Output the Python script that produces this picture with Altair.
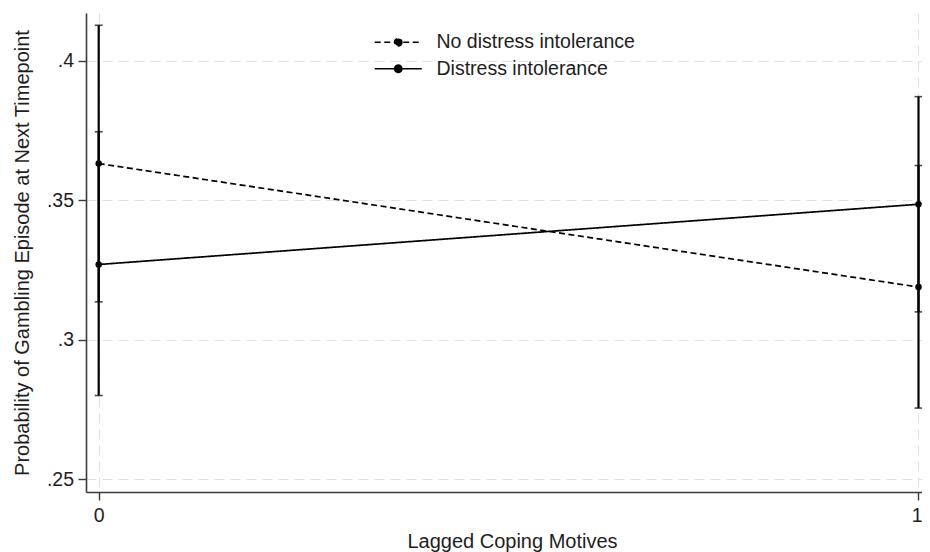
import altair as alt
import pandas as pd

# ---- data ----
groups = ["No distress intolerance", "Distress intolerance"]
coping = [0, 1]
prob_no = [0.3632, 0.3189]
lo_no = [0.3136, 0.2755]
hi_no = [0.4128, 0.3625]
prob_di = [0.3270, 0.3486]
lo_di = [0.2800, 0.3100]
hi_di = [0.3746, 0.3872]
y_ticks = [0.25, 0.30, 0.35, 0.40]
x_ticks = [0, 1]

rows = []
for g, p, lo, hi in [(groups[0], prob_no, lo_no, hi_no),
                     (groups[1], prob_di, lo_di, hi_di)]:
    for i, xv in enumerate(coping):
        rows.append({"group": g, "x": xv, "p": p[i], "lo": lo[i], "hi": hi[i]})
df = pd.DataFrame(rows)

FONT = "Liberation Sans"
TXT = "#1e1e1e"
AX = "#3a3a3a"

x_axis = alt.Axis(values=x_ticks, format="d", title="Lagged Coping Motives",
                  grid=True, labelPadding=6, labelFlush=5, labelFlushOffset=3.5,
                  labelBound=False,
                  titleX=426, titleY=55.5,
                  titleBaseline="alphabetic", titleAlign="center")
y_axis = alt.Axis(values=y_ticks,
                  labelExpr="substring(format(datum.value, '.2f'), 1, length(format(datum.value, '.2~f')))",
                  title="Probability of Gambling Episode at Next Timepoint",
                  grid=True, labelPadding=4.5, titlePadding=14)
x_enc = alt.X("x:Q", scale=alt.Scale(domain=[-0.01549, 1.00427], nice=False, zero=False,
                                     padding=0),
              axis=x_axis)
yscale = alt.Scale(domain=[0.2454, 0.4172], nice=False, zero=False, padding=0)

base = alt.Chart(df)

bars = base.mark_rule(color="black", strokeWidth=2.2).encode(
    x=x_enc,
    y=alt.Y("lo:Q", scale=yscale, axis=y_axis),
    y2="hi:Q",
)
caps_lo = base.mark_tick(color="black", orient="horizontal", size=8, thickness=1.6).encode(
    x=x_enc, y=alt.Y("lo:Q", scale=yscale, axis=y_axis))
caps_hi = base.mark_tick(color="black", orient="horizontal", size=8, thickness=1.6).encode(
    x=x_enc, y=alt.Y("hi:Q", scale=yscale, axis=y_axis))

legend_path = ("M-3.36,0H3.36M0.52,0A0.52,0.52,0,1,1,-0.52,0"
               "A0.52,0.52,0,1,1,0.52,0Z")
lines = base.mark_line(color="black", strokeWidth=1.7).encode(
    x=x_enc,
    y=alt.Y("p:Q", scale=yscale, axis=y_axis),
    strokeDash=alt.StrokeDash(
        "group:N",
        scale=alt.Scale(domain=groups, range=[[6, 3.5], [1, 0]]),
        legend=alt.Legend(
            title=None, orient="none", legendX=302.5, legendY=19.5,
            symbolType=legend_path, symbolSize=196, symbolStrokeWidth=1.6,
            symbolStrokeColor="black", symbolFillColor="black",
            labelFont=FONT, labelFontSize=19.5, labelColor=TXT, labelLimit=400,
            labelOffset=28.5, rowPadding=5.5, padding=0,
        ),
    ),
    detail="group:N",
)
points = base.mark_circle(color="black", size=42, opacity=1).encode(
    x=x_enc, y=alt.Y("p:Q", scale=yscale, axis=y_axis))

chart = alt.layer(bars, caps_lo, caps_hi, lines, points).properties(
    width=836, height=479,
    autosize=alt.AutoSizeParams(type="none"),
    padding={"left": 78, "top": 5, "right": 0, "bottom": 60},
).configure_view(stroke=None).configure_scale(continuousPadding=0).configure_axis(
    labelFont=FONT, titleFont=FONT, labelFontSize=19.5, titleFontSize=20,
    labelColor=TXT, titleColor=TXT, titleFontWeight="normal",
    domainColor=AX, domainWidth=1.6, tickColor=AX, tickWidth=1.4, tickSize=8,
    gridColor="#e0e0e0", gridDash=[10, 6], gridWidth=1,
)

chart.save("out.html", embed_options={"renderer": "svg", "actions": False})
